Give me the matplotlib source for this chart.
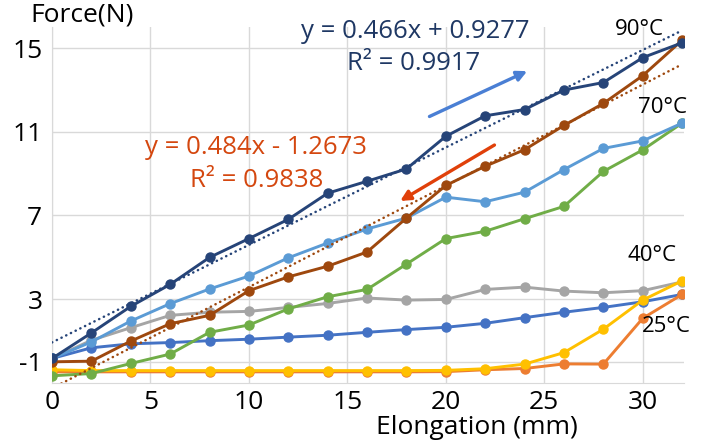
import matplotlib
matplotlib.use("Agg")
import matplotlib.pyplot as plt

plt.rcParams['font.family'] = ['Open Sans', 'DejaVu Sans']

# elongation steps (mm)
elong = [0, 2, 4, 6, 8, 10, 12, 14, 16, 18, 20, 22, 24, 26, 28, 30, 32]

# force readings (N), one list per curve
f_navy = [0.16, 1.38, 2.65, 3.70, 4.99, 5.89, 6.81, 8.06, 8.63, 9.22, 10.78, 11.76, 12.06, 12.99, 13.35, 14.54, 15.25]
f_brown = [0.0, 0.03, 0.99, 1.82, 2.22, 3.40, 4.06, 4.57, 5.25, 6.87, 8.43, 9.35, 10.14, 11.30, 12.35, 13.68, 15.37]
f_lblue = [0.16, 0.95, 1.95, 2.78, 3.48, 4.10, 4.97, 5.68, 6.35, 6.87, 7.87, 7.65, 8.11, 9.19, 10.20, 10.56, 11.41]
f_green = [-0.67, -0.56, -0.08, 0.37, 1.41, 1.76, 2.53, 3.11, 3.46, 4.67, 5.89, 6.24, 6.84, 7.43, 9.10, 10.13, 11.41]
f_gray = [0.16, 1.03, 1.63, 2.22, 2.37, 2.41, 2.60, 2.79, 3.05, 2.95, 2.98, 3.46, 3.57, 3.38, 3.30, 3.40, 3.82]
f_blue = [0.16, 0.67, 0.86, 0.92, 1.01, 1.08, 1.18, 1.27, 1.41, 1.54, 1.65, 1.84, 2.11, 2.37, 2.60, 2.87, 3.22]
f_yellow = [-0.38, -0.42, -0.42, -0.42, -0.42, -0.42, -0.42, -0.42, -0.42, -0.42, -0.41, -0.33, -0.11, 0.44, 1.56, 2.95, 3.87]
f_orange = [-0.48, -0.48, -0.48, -0.48, -0.48, -0.48, -0.48, -0.48, -0.48, -0.48, -0.47, -0.38, -0.32, -0.10, -0.11, 2.08, 3.22]

# trendlines (slope, intercept)
trend_navy = (0.466, 0.9277)
trend_brown = (0.484, -1.2673)

yticks = [0, 3, 7, 11, 15]
ytick_labels = ['-1', '3', '7', '11', '15']
xticks = [0, 5, 10, 15, 20, 25, 30]

fig = plt.figure(figsize=(7.07, 4.44), dpi=100)
ax = fig.add_axes([0.0736, 0.138, 0.894, 0.801])

series = [
    (f_gray, '#A5A5A5'),
    (f_blue, '#4472C4'),
    (f_orange, '#ED7D31'),
    (f_yellow, '#FFC000'),
    (f_green, '#70AD47'),
    (f_lblue, '#5B9BD5'),
    (f_brown, '#9E480E'),
    (f_navy, '#264478'),
]
for vals, col in series:
    ax.plot(elong, vals, color=col, lw=2.1, marker='o', ms=6.5, zorder=3)

# dotted linear fits
for (k, b), col in [(trend_navy, '#264478'), (trend_brown, '#9E480E')]:
    xs = [elong[0], elong[-1]]
    ax.plot(xs, [k * x + b for x in xs], color=col, lw=1.8,
            linestyle=(0, (0.1, 2.0)), dash_capstyle='round', zorder=4)

ax.set_xlim(0, 32.1)
ax.set_ylim(-1, 16)
ax.set_xticks(xticks)
ax.set_yticks(yticks)
ax.set_yticklabels(ytick_labels)
ax.tick_params(length=0, labelsize=19, colors='black')
ax.tick_params(axis='x', pad=5)
ax.tick_params(axis='y', pad=7)
ax.grid(True, color='#D9D9D9', lw=1)
ax.set_axisbelow(True)
for s in ['top', 'right']:
    ax.spines[s].set_visible(False)
for s in ['left', 'bottom']:
    ax.spines[s].set_color('#D9D9D9')

# equations
ax.text(18.43, 15.81, 'y = 0.466x + 0.9277', color='#1F3864', fontsize=18.5, ha='center', va='center')
ax.text(18.38, 14.24, 'R² = 0.9917', color='#1F3864', fontsize=18.5, ha='center', va='center')
ax.text(10.36, 10.24, 'y = 0.484x - 1.2673', color='#D4470F', fontsize=18.5, ha='center', va='center')
ax.text(10.41, 8.67, 'R² = 0.9838', color='#D4470F', fontsize=18.5, ha='center', va='center')

# temperature labels
ax.text(29.85, 15.9, '90°C', fontsize=16, ha='center', va='center')
ax.text(31.0, 12.14, '70°C', fontsize=16, ha='center', va='center')
ax.text(30.46, 5.10, '40°C', fontsize=16, ha='center', va='center')
ax.text(31.2, 1.67, '25°C', fontsize=16, ha='center', va='center')

# direction arrows
ax.annotate('', xy=(24.26, 13.95), xytext=(19.04, 11.67),
            arrowprops=dict(arrowstyle='-|>', color='#4A7FD4', lw=2.4, mutation_scale=15))
ax.annotate('', xy=(17.56, 7.62), xytext=(22.59, 10.43),
            arrowprops=dict(arrowstyle='-|>', color='#E0400A', lw=2.4, mutation_scale=15))

fig.text(0.116, 0.966, 'Force(N)', fontsize=19, ha='center', va='center')
fig.text(0.675, 0.038, 'Elongation (mm)', fontsize=19, ha='center', va='center')

fig.savefig('out.png', dpi=100)
